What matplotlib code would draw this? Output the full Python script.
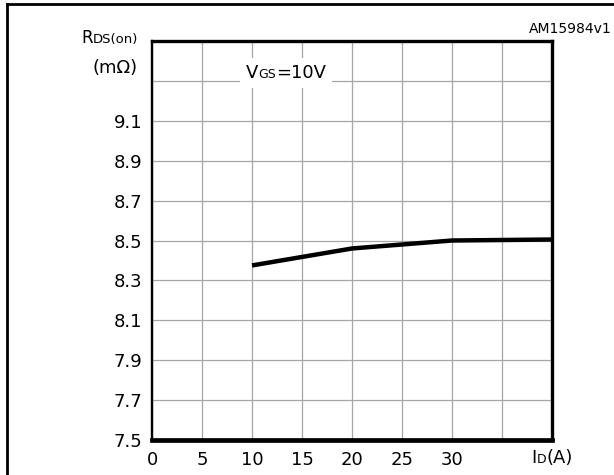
import matplotlib
matplotlib.use('Agg')
import matplotlib.pyplot as plt
from matplotlib.lines import Line2D
from matplotlib.offsetbox import TextArea, HPacker, AnnotationBbox

# RDS(on) vs drain current, VGS = 10 V
drain_current = [10, 20, 30, 40]
rds_on = [8.375, 8.46, 8.50, 8.505]

x_ticks = [0, 5, 10, 15, 20, 25, 30, 35, 40]
x_labels = ['0', '5', '10', '15', '20', '25', '30', '', '']
y_ticks = [7.5, 7.7, 7.9, 8.1, 8.3, 8.5, 8.7, 8.9, 9.1, 9.3, 9.5]
y_labels = ['7.5', '7.7', '7.9', '8.1', '8.3', '8.5', '8.7', '8.9', '9.1', '', '']

W, H = 614, 475
BIG, SMALL = 13, 9


def mixed_text(parts):
    """Text made of pieces with different sizes sitting on one baseline."""
    areas = [TextArea(s, textprops=dict(fontsize=fs, color='black')) for s, fs in parts]
    return HPacker(children=areas, align='baseline', pad=0, sep=0)


fig = plt.figure(figsize=(W / 100, H / 100), dpi=100)
ax = fig.add_axes([152 / W, 1 - 440 / H, 400 / W, 399 / H])

ax.plot(drain_current, rds_on, color='black', lw=3.2, solid_capstyle='butt', zorder=5)

ax.set_xlim(0, 40)
ax.set_ylim(7.5, 9.5)
ax.set_xticks(x_ticks)
ax.set_xticklabels(x_labels)
ax.set_yticks(y_ticks)
ax.set_yticklabels(y_labels)
ax.tick_params(length=0, labelsize=BIG)
ax.tick_params(axis='x', pad=8)
ax.tick_params(axis='y', pad=7)
ax.grid(True, color='#a6a6a6', lw=0.9)
ax.set_axisbelow(True)

ax.spines['left'].set_linewidth(1.7)
ax.spines['top'].set_linewidth(2.4)
ax.spines['right'].set_linewidth(2.4)
ax.spines['bottom'].set_linewidth(3.4)

# axis titles
ylab1 = mixed_text([('R', 12), ('DS(on)', 9.5)])
ax.add_artist(AnnotationBbox(ylab1, (-0.035, 1.008), xycoords='axes fraction',
                             box_alignment=(1, 0.5), frameon=False,
                             annotation_clip=False))
ylab2 = mixed_text([('(m\u03a9)', BIG)])
ax.add_artist(AnnotationBbox(ylab2, (-0.035, 0.932), xycoords='axes fraction',
                             box_alignment=(1, 0.5), frameon=False,
                             annotation_clip=False))
xlab = mixed_text([('I', BIG), ('D', SMALL), ('(A)', BIG)])
ax.add_artist(AnnotationBbox(xlab, (40, -0.045), xycoords=('data', 'axes fraction'),
                             box_alignment=(0.5, 0.5), frameon=False,
                             annotation_clip=False))

# condition label with white background
vgs = mixed_text([('V', BIG), ('GS', SMALL), ('=10V', BIG)])
ab = AnnotationBbox(vgs, (13.4, 9.34), xycoords='data', box_alignment=(0.5, 0.5),
                    frameon=True, pad=0.45,
                    bboxprops=dict(facecolor='white', edgecolor='none'))
ab.set_zorder(4)
ax.add_artist(ab)

fig.text(612 / W, 1 - 29 / H, 'AM15984v1', fontsize=10, ha='right', va='center')

# outer frame (left and top edges)
fig.add_artist(Line2D([7 / W, 7 / W], [0, 1 - 4 / H], transform=fig.transFigure,
                      color='black', lw=2))
fig.add_artist(Line2D([7 / W, 1], [1 - 4 / H, 1 - 4 / H], transform=fig.transFigure,
                      color='black', lw=2))

fig.savefig('out.png', dpi=100)
